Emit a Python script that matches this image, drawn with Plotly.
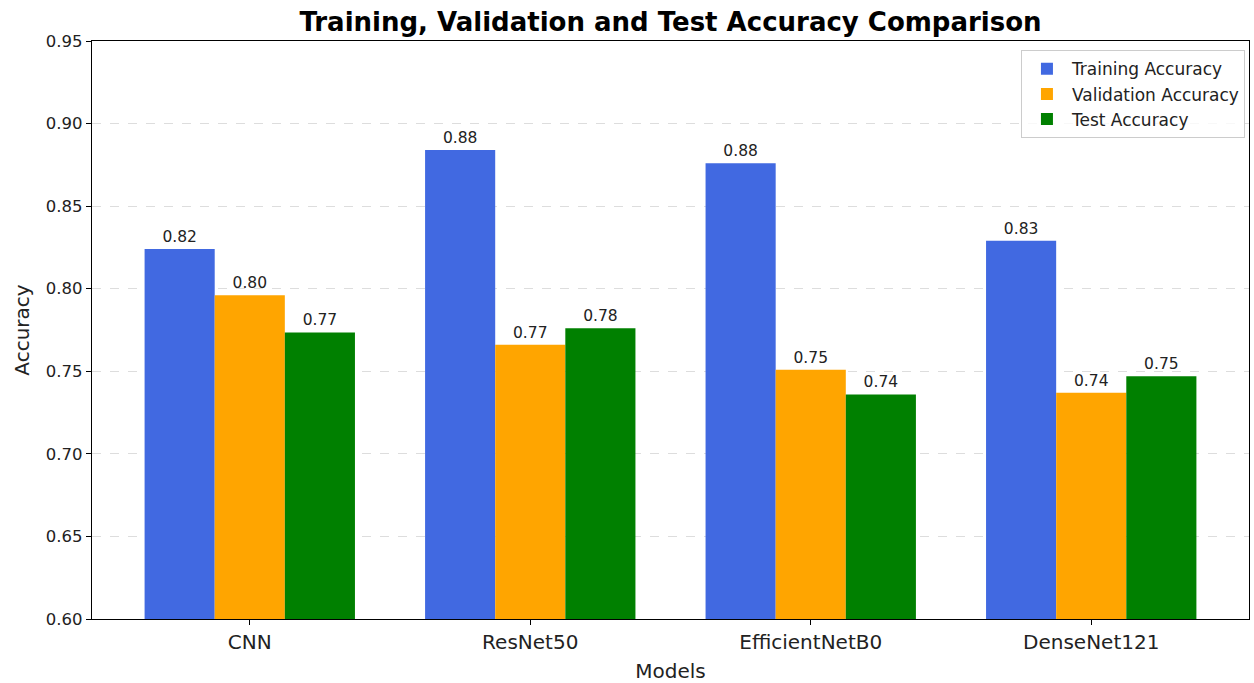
import plotly.graph_objects as go

models = ["CNN", "ResNet50", "EfficientNetB0", "DenseNet121"]
train_acc = [0.824, 0.884, 0.876, 0.829]
val_acc = [0.796, 0.766, 0.751, 0.737]
test_acc = [0.7735, 0.776, 0.736, 0.747]
series_names = ["Training Accuracy", "Validation Accuracy", "Test Accuracy"]
colors = ["#4169E1", "#FFA500", "#008000"]
y_ticks = [0.60, 0.65, 0.70, 0.75, 0.80, 0.85, 0.90, 0.95]

x = list(range(len(models)))
font = "DejaVu Sans"

fig = go.Figure()
for name, vals, col in zip(series_names, [train_acc, val_acc, test_acc], colors):
    fig.add_trace(go.Bar(
        x=x, y=vals, name=name, marker=dict(color=col, line=dict(width=0)),
        texttemplate="%{y:.2f}", textposition="outside",
        textfont=dict(family=font, size=15.5, color="#222"),
        cliponaxis=False,
    ))

fig.update_layout(
    width=1254, height=683,
    paper_bgcolor="white", plot_bgcolor="white",
    barmode="group", bargap=0.25, bargroupgap=0,
    margin=dict(l=92, r=5, t=41, b=64, autoexpand=False),
    title=dict(text="<b>Training, Validation and Test Accuracy Comparison</b>",
               x=(92 + 1249) / 2 / 1254, xanchor="center", y=1 - 22 / 683, yanchor="middle",
               font=dict(family=font, size=26, color="black")),
    font=dict(family=font, color="black"),
    legend=dict(x=0.9965, y=0.984, xanchor="right", yanchor="top",
                bgcolor="rgba(255,255,255,0.8)", bordercolor="#cccccc", borderwidth=1,
                font=dict(family=font, size=17, color="#222"), traceorder="normal",
                itemwidth=40),
    showlegend=True,
)
fig.update_xaxes(
    tickmode="array", tickvals=x, ticktext=models, range=[-0.5625, 3.5625],
    tickfont=dict(family=font, size=20, color="#222"),
    ticks="outside", ticklen=5, tickcolor="black", automargin=False,
    showline=True, linecolor="black", linewidth=1.2, mirror=True, showgrid=False,
    title=dict(text="Models", font=dict(family=font, size=20, color="#222"), standoff=12),
)
fig.update_yaxes(
    range=[0.60, 0.95], tickmode="array", tickvals=y_ticks,
    ticktext=[f"{v:.2f}" for v in y_ticks],
    tickfont=dict(family=font, size=16.5, color="#222"),
    ticks="outside", ticklen=5, tickcolor="black", automargin=False,
    showline=True, linecolor="black", linewidth=1.2, mirror=True,
    showgrid=True, gridcolor="#dddddd", griddash="dash", gridwidth=1,
    zeroline=False,
    title=dict(text="Accuracy", font=dict(family=font, size=20, color="#222"), standoff=10),
)

fig.write_html(
    "out.html",
    config={"displayModeBar": False},
    post_script="document.body.style.margin='0';document.body.style.overflow='hidden';",
)
